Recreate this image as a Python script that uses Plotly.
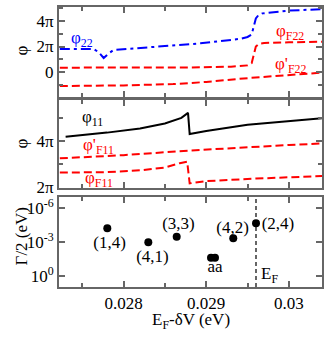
import numpy as np
import plotly.graph_objects as go
from plotly.subplots import make_subplots

# top panel: phase of mode 22 and the two F22 phases (units of pi)
x_p22 = [0.02723, 0.02748, 0.02764, 0.02770, 0.02776, 0.02782, 0.02788, 0.02833,
         0.02893, 0.02941, 0.02950, 0.02955, 0.02958, 0.02960, 0.02963, 0.02968,
         0.03001, 0.03040]
p22 = [1.80, 1.80, 1.80, 1.55, 1.10, 1.45, 1.73, 1.95,
       2.25, 2.60, 2.75, 2.95, 3.6, 4.2, 4.45, 4.6,
       4.82, 4.93]

x_pf22 = [0.02723, 0.02800, 0.02880, 0.02930, 0.02950, 0.02955, 0.02958, 0.02960,
          0.02964, 0.02970, 0.03000, 0.03040]
pf22 = [0.34, 0.34, 0.36, 0.42, 0.52, 0.7, 1.4, 2.0,
        2.22, 2.28, 2.33, 2.38]

x_pf22b = [0.02723, 0.02800, 0.02860, 0.02900, 0.02950, 0.03000, 0.03040]
pf22b = [-1.10, -1.05, -0.95, -0.78, -0.48, -0.22, -0.05]

# middle panel: phase of mode 11 and the F11 phases (units of pi)
x_p11 = [0.02730, 0.02780, 0.02820, 0.02850, 0.02870, 0.02878, 0.02880,
         0.02900, 0.02950, 0.03000, 0.03040]
p11 = [4.20, 4.38, 4.56, 4.78, 5.02, 5.24, 4.32,
       4.45, 4.72, 4.88, 5.00]

x_pf11b = [0.02723, 0.02800, 0.02880, 0.02950, 0.03000, 0.03040]
pf11b = [3.26, 3.40, 3.60, 3.75, 3.84, 3.91]

x_pf11 = [0.02723, 0.02780, 0.02820, 0.02850, 0.02868, 0.02875, 0.02877,
          0.02880, 0.02900, 0.02960, 0.03040]
pf11 = [2.64, 2.66, 2.74, 2.86, 3.05, 3.11, 3.11,
        2.17, 2.27, 2.38, 2.49]

# bottom panel: resonance widths (log10 of Gamma/2)
res_x = [0.027804, 0.028300, 0.028643, 0.029058, 0.029106, 0.029327, 0.029602]
res_lg = [-4.22, -2.97, -3.47, -1.60, -1.60, -3.33, -4.66]
res_lbl = ["(1,4)", "(4,1)", "(3,3)", "aa", "(4,2)", "(2,4)"]
res_lbl_x = [0.027831, 0.028350, 0.028664, 0.029106, 0.029318, 0.029868]
res_lbl_lg = [-2.82, -1.60, -4.51, -0.69, -4.22, -4.51]
e_f = 0.029602

FONT = "Liberation Serif"
GRID = "#666666"
RED = "#ff0000"
BLUE = "#0000ff"
DASH = "8px,4px"

fig = make_subplots(rows=3, cols=1, shared_xaxes=False, vertical_spacing=0)

fig.add_trace(go.Scatter(x=x_p22, y=p22, mode="lines",
                         line=dict(color=BLUE, width=2, dash="10px,4px,3px,4px")), row=1, col=1)
fig.add_trace(go.Scatter(x=x_pf22, y=pf22, mode="lines",
                         line=dict(color=RED, width=2, dash=DASH)), row=1, col=1)
fig.add_trace(go.Scatter(x=x_pf22b, y=pf22b, mode="lines",
                         line=dict(color=RED, width=2, dash=DASH)), row=1, col=1)

fig.add_trace(go.Scatter(x=x_p11, y=p11, mode="lines",
                         line=dict(color="black", width=2)), row=2, col=1)
fig.add_trace(go.Scatter(x=x_pf11b, y=pf11b, mode="lines",
                         line=dict(color=RED, width=2, dash=DASH)), row=2, col=1)
fig.add_trace(go.Scatter(x=x_pf11, y=pf11, mode="lines",
                         line=dict(color=RED, width=2, dash=DASH)), row=2, col=1)

fig.add_trace(go.Scatter(x=res_x, y=[10**v for v in res_lg], mode="markers",
                         marker=dict(color="black", size=8)), row=3, col=1)
fig.add_trace(go.Scatter(x=[e_f, e_f], y=[10**1, 10**-7], mode="lines",
                         line=dict(color="black", width=1.2, dash="4px,3px")), row=3, col=1)
fig.add_trace(go.Scatter(x=res_lbl_x, y=[10**v for v in res_lbl_lg], mode="text",
                         text=res_lbl,
                         textfont=dict(family=FONT, size=17, color="black")), row=3, col=1)

xmaj = [0.028, 0.029, 0.030]
xmin = [0.0275, 0.0285, 0.0295, 0.0305]
ax_common = dict(showline=True, mirror="allticks", linecolor=GRID, linewidth=2,
                 ticks="inside", ticklen=6, tickwidth=2, tickcolor=GRID,
                 showgrid=False, zeroline=False, automargin=False,
                 tickfont=dict(family=FONT, size=17, color="black"))

for r in (1, 2, 3):
    fig.update_xaxes(range=[0.02722, 0.03040], tickvals=xmaj,
                     ticktext=["0.028", "0.029", "0.03"] if r == 3 else ["", "", ""],
                     minor=dict(tickvals=xmin, ticks="inside", ticklen=4,
                                tickwidth=2, tickcolor=GRID),
                     row=r, col=1, **ax_common)

fig.update_yaxes(range=[-1.96, 5.1], tickvals=[0, 2, 4], ticktext=["0", "2π", "4π"],
                 minor=dict(tickvals=[-1, 1, 3, 5], ticks="inside", ticklen=4,
                            tickwidth=2, tickcolor=GRID),
                 row=1, col=1, **ax_common)
fig.update_yaxes(range=[1.97, 5.8], tickvals=[2, 4], ticktext=["2π", "4π"],
                 minor=dict(tickvals=[3, 5], ticks="inside", ticklen=4,
                            tickwidth=2, tickcolor=GRID),
                 row=2, col=1, **ax_common)
fig.update_yaxes(type="log", range=[1, -7], tickvals=[1e-6, 1e-3, 1],
                 ticktext=["10<sup>-6</sup>", "10<sup>-3</sup>", "10<sup>0</sup>"],
                 row=3, col=1, **ax_common)

fig.update_layout(
    xaxis=dict(domain=[0, 1]),
    yaxis=dict(domain=[0.6786, 1.0]),
    yaxis2=dict(domain=[0.3536, 0.6679]),
    yaxis3=dict(domain=[0.0, 0.3214]),
    width=328, height=337,
    margin=dict(l=59, r=6, t=7, b=50),
    showlegend=False,
    plot_bgcolor="white", paper_bgcolor="white",
    font=dict(family=FONT, size=17, color="black"),
)

# curve labels
labels = [
    ("x", "y", 0.027504, 2.6, "φ<sub>22</sub>", BLUE),
    ("x", "y", 0.03001, 3.15, "φ<sub>F22</sub>", RED),
    ("x", "y", 0.03002, 0.55, "φ'<sub>F22</sub>", RED),
    ("x2", "y2", 0.02763, 5.0, "φ<sub>11</sub>", "black"),
    ("x2", "y2", 0.02770, 3.8, "φ'<sub>F11</sub>", RED),
    ("x2", "y2", 0.02770, 2.35, "φ<sub>F11</sub>", RED),
    ("x3", "y3", 0.029771, -0.07, "E<sub>F</sub>", "black"),
]
for xr, yr, xv, yv, txt, col in labels:
    fig.add_annotation(x=xv, y=yv, xref=xr, yref=yr, text=txt, showarrow=False,
                       font=dict(family=FONT, size=17, color=col))

# axis titles
for yy, txt in [(0.846, "φ"), (0.514, "φ"), (0.182, "Γ/2 (eV)")]:
    fig.add_annotation(x=-0.143, y=yy, xref="paper", yref="paper", text=txt,
                       xanchor="center", yanchor="middle",
                       showarrow=False, textangle=-90,
                       font=dict(family=FONT, size=17, color="black"))
fig.add_annotation(x=0.5, y=-0.122, xref="paper", yref="paper",
                   xanchor="center", yanchor="middle",
                   text="E<sub>F</sub>-δV (eV)", showarrow=False,
                   font=dict(family=FONT, size=17, color="black"))

# page has a default body margin, drop it so the figure sits at the window corner
fig.write_html("out.html", config={"displayModeBar": False},
               post_script="document.body.style.margin='0';")
